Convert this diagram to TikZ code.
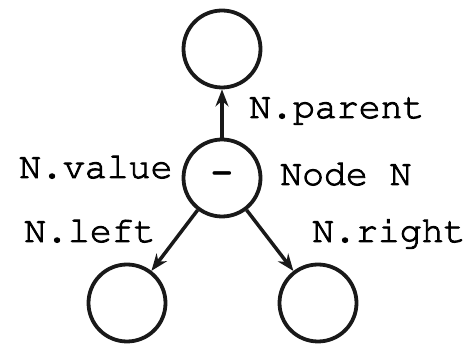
\documentclass[tikz,border=0pt]{standalone}
\usepackage[T1]{fontenc}
\renewcommand\ttdefault{pcr}
\usetikzlibrary{arrows.meta}
\newcommand\heavytext[1]{\special{pdf:literal direct 2 Tr 0.9 w}#1\special{pdf:literal direct 0 Tr}}
\begin{document}
\begin{tikzpicture}[x=1pt,y=1pt,
  tn/.style={circle,draw=black!90,line width=3.8pt,minimum size=77pt,inner sep=0pt},
  lbl/.style={anchor=base west,inner sep=0pt,font=\ttfamily\fontsize{36.5}{36.5}\selectfont},
  conn/.style={line width=3.5pt,draw=black!90,-{Stealth[length=17pt,width=13pt]}}]
\useasboundingbox (0,0) rectangle (474,345);
\node[tn,font=\ttfamily\bfseries\fontsize{36}{36}\selectfont] (mid) at (222,167) {-};
\node[tn] (top) at (222,296) {};
\node[tn] (bl) at (127,42) {};
\node[tn] (br) at (318,42) {};
\draw[conn] (mid) -- (top);
\draw[conn] (mid) -- (bl);
\draw[conn] (mid) -- (br);
\node[lbl] (lp) at (249,227) {\heavytext{N.parent}};
\node[lbl] (lv) at (19,167) {\heavytext{N.value}};
\node[lbl] (ln) at (280,160) {\heavytext{Node N}};
\node[lbl] (ll) at (24,103) {\heavytext{N.left}};
\node[lbl] (lr) at (312,103) {\heavytext{N.right}};
\end{tikzpicture}
\end{document}
